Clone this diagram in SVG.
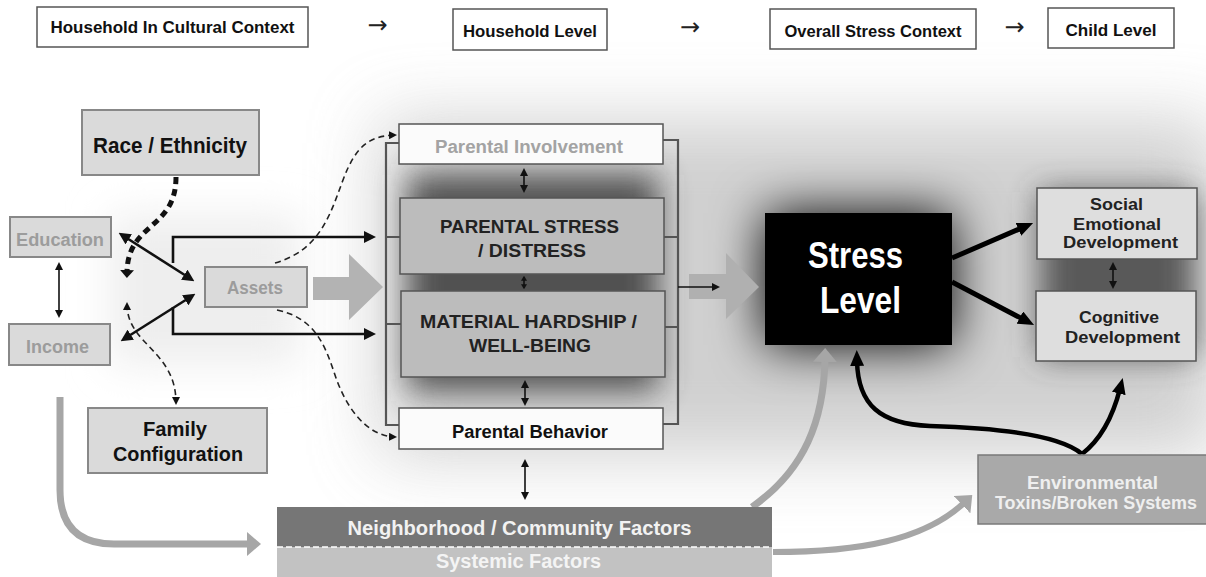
<svg xmlns="http://www.w3.org/2000/svg" width="1206" height="577" viewBox="0 0 1206 577">
<defs>
<style>
text{font-family:"Liberation Sans",Arial,sans-serif;font-weight:bold;text-anchor:middle;}
.hdr rect{fill:#fff;stroke:#555;stroke-width:1.5;}
.hdr text{font-size:17px;fill:#111;}
.arr{font-family:"DejaVu Sans",sans-serif;font-weight:normal;font-size:24px;fill:#222;}
.lg rect{fill:#dadada;stroke:#888;stroke-width:2;}
.ctr{stroke:#555;stroke-width:1.5;}
.thin{fill:none;stroke:#111;stroke-width:1.6;}
.med{fill:none;stroke:#111;stroke-width:2.6;}
.dash{fill:none;stroke:#222;stroke-width:1.6;stroke-dasharray:6 4;}
.thick{fill:none;stroke:#000;stroke-width:5;}
.gray{fill:none;stroke:#a6a6a6;stroke-width:7;}
.brk{fill:none;stroke:#555;stroke-width:2.2;}
</style>
<marker id="sm" viewBox="0 0 8 8" refX="6" refY="4" markerWidth="8" markerHeight="8" markerUnits="userSpaceOnUse" orient="auto-start-reverse"><path d="M0,0 L8,4 L0,8 z" fill="#111"/></marker>
<marker id="xs" viewBox="0 0 8 8" refX="6" refY="4" markerWidth="5" markerHeight="6" markerUnits="userSpaceOnUse" orient="auto-start-reverse" preserveAspectRatio="none"><path d="M0,0 L8,4 L0,8 z" fill="#111"/></marker>
<marker id="md" viewBox="0 0 12 12" refX="8" refY="6" markerWidth="12" markerHeight="12" markerUnits="userSpaceOnUse" orient="auto-start-reverse"><path d="M0,0 L12,6 L0,12 z" fill="#111"/></marker>
<marker id="rc" viewBox="0 0 8 14" refX="2" refY="7" markerWidth="8" markerHeight="14" markerUnits="userSpaceOnUse" orient="auto"><path d="M0,0 L8,7 L0,14 z" fill="#111"/></marker>
<marker id="big" viewBox="0 0 16 14" refX="5" refY="7" markerWidth="16" markerHeight="14" markerUnits="userSpaceOnUse" orient="auto"><path d="M0,0 L16,7 L0,14 z" fill="#000"/></marker>
<marker id="gm" viewBox="0 0 14 24" refX="4" refY="12" markerWidth="14" markerHeight="24" markerUnits="userSpaceOnUse" orient="auto"><path d="M0,0 L14,12 L0,24 z" fill="#a6a6a6"/></marker>
<filter id="b35" x="-50%" y="-50%" width="200%" height="200%"><feGaussianBlur stdDeviation="35"/></filter>
<filter id="b26" x="-50%" y="-50%" width="200%" height="200%"><feGaussianBlur stdDeviation="26"/></filter>
<filter id="b20" x="-50%" y="-50%" width="200%" height="200%"><feGaussianBlur stdDeviation="20"/></filter>
<filter id="b14" x="-50%" y="-50%" width="200%" height="200%"><feGaussianBlur stdDeviation="16"/></filter>
</defs>
<rect width="1206" height="577" fill="#fff"/>
<g id="background">
<rect x="380" y="120" width="840" height="335" fill="#c8c8c8" opacity="0.85" filter="url(#b35)"/>
<rect x="110" y="215" width="190" height="150" fill="#eeeeee" filter="url(#b20)"/>
<rect x="408" y="175" width="250" height="215" fill="#3a3a3a" opacity="0.85" filter="url(#b14)"/>
<rect x="765" y="213" width="187" height="132" fill="#111" filter="url(#b26)"/>
<rect x="1040" y="192" width="155" height="165" fill="#444" opacity="0.85" filter="url(#b14)"/>
</g>
<g id="header">
<g id="h-cultural" class="hdr"><rect x="37" y="7" width="271" height="40"/><text x="172.5" y="33" textLength="244" lengthAdjust="spacingAndGlyphs">Household In Cultural Context</text></g>
<text class="arr" x="377.5" y="33">→</text>
<g id="h-household" class="hdr"><rect x="453" y="9" width="154" height="41"/><text x="530" y="37" textLength="134" lengthAdjust="spacingAndGlyphs">Household Level</text></g>
<text class="arr" x="690" y="35">→</text>
<g id="h-overall" class="hdr"><rect x="770" y="9" width="206" height="40"/><text x="873" y="37" textLength="177" lengthAdjust="spacingAndGlyphs">Overall Stress Context</text></g>
<text class="arr" x="1014.5" y="35">→</text>
<g id="h-child" class="hdr"><rect x="1048" y="8" width="126" height="40"/><text x="1111" y="36" textLength="91" lengthAdjust="spacingAndGlyphs">Child Level</text></g>
</g>
<g id="connectors">
<polygon points="313,277 349,277 349,254 383,287 349,320 349,300 313,300" fill="#b3b3b3"/>
<polygon points="689,274 726,274 726,253 759,287 726,319 726,299 689,299" fill="#b0b0b0"/>
<line class="thin" x1="59" y1="264" x2="59" y2="316" marker-start="url(#sm)" marker-end="url(#sm)"/>
<line class="med" x1="122" y1="235" x2="191" y2="279" marker-start="url(#md)" marker-end="url(#md)"/>
<line class="med" x1="124" y1="339" x2="192" y2="296" marker-start="url(#md)" marker-end="url(#md)"/>
<path class="med" d="M173,263 V237 H372" marker-end="url(#md)"/>
<path class="med" d="M173,307 V334 H372" marker-end="url(#md)"/>
<path d="M176,177 C176,230 128,222 127,272" fill="none" stroke="#111" stroke-width="5" stroke-dasharray="7 5" marker-end="url(#rc)"/>
<path class="dash" d="M127,304 C127,345 176,350 176,403" marker-start="url(#sm)" marker-end="url(#sm)"/>
<path class="dash" d="M275,263 C320,250 330,215 343,180 S370,136 395,135" marker-end="url(#sm)"/>
<path class="dash" d="M277,310 C315,318 325,345 335,375 S365,436 395,437" marker-end="url(#sm)"/>
<path class="brk" d="M400,143 H386 V425 H400"/>
<path class="brk" d="M386,237 H400 M386,324 H401"/>
<path class="brk" d="M663,140 H678 V424 H663"/>
<path class="brk" d="M664,237 H678 M665,327 H678"/>
<line class="thin" x1="678" y1="287" x2="718" y2="287" marker-end="url(#sm)"/>
<line class="thin" x1="524" y1="170" x2="524" y2="191" marker-start="url(#sm)" marker-end="url(#sm)"/>
<line class="thin" x1="524" y1="277" x2="524" y2="288" marker-start="url(#xs)" marker-end="url(#xs)"/>
<line class="thin" x1="525" y1="382" x2="525" y2="404" marker-start="url(#sm)" marker-end="url(#sm)"/>
<line class="thin" x1="525" y1="461" x2="525" y2="498" marker-start="url(#sm)" marker-end="url(#sm)"/>
<line class="thick" x1="952" y1="258" x2="1023" y2="227.4" marker-end="url(#big)"/>
<line class="thick" x1="952" y1="282" x2="1024.3" y2="319.9" marker-end="url(#big)"/>
<line class="thin" x1="1113" y1="264" x2="1113" y2="287" marker-start="url(#sm)" marker-end="url(#sm)"/>
<path class="thick" style="stroke-width:4.5" d="M1082,454 C1100,440 1112,420 1120,388.6" marker-end="url(#big)"/>
<path class="thick" style="stroke-width:4.5" d="M1082,454 C1060,435 1000,428 930,426 C880,424 858,405 857,361" marker-end="url(#big)"/>
<path class="gray" d="M752,507 C805,470 824,420 825,358" marker-end="url(#gm)"/>
<path class="gray" style="stroke-width:6" d="M773,552 C860,552 925,540 965,502" marker-end="url(#gm)"/>
<path class="gray" d="M60,397 V490 Q60,544 114,544 H251" marker-end="url(#gm)"/>
</g>
<g id="race" class="lg"><rect x="82" y="110" width="177" height="65"/><text x="170" y="153" font-size="22" fill="#111" textLength="154" lengthAdjust="spacingAndGlyphs">Race / Ethnicity</text></g>
<g id="education" class="lg"><rect x="10" y="217" width="101" height="40"/><text x="60" y="246" font-size="18" fill="#9c9c9c" textLength="88" lengthAdjust="spacingAndGlyphs">Education</text></g>
<g id="income" class="lg"><rect x="9" y="324" width="101" height="41"/><text x="57.5" y="353" font-size="18" fill="#9c9c9c" textLength="63" lengthAdjust="spacingAndGlyphs">Income</text></g>
<g id="assets" class="lg"><rect x="205" y="267" width="102" height="40"/><text x="255" y="294" font-size="18" fill="#9c9c9c" textLength="56" lengthAdjust="spacingAndGlyphs">Assets</text></g>
<g id="family" class="lg"><rect x="88" y="408" width="179" height="65"/><text x="175" y="436" font-size="20" fill="#111" textLength="64" lengthAdjust="spacingAndGlyphs">Family</text><text x="178" y="461" font-size="20" fill="#111" textLength="130" lengthAdjust="spacingAndGlyphs">Configuration</text></g>
<g id="parental-involvement"><rect class="ctr" x="399" y="124" width="264" height="40" fill="#fbfbfb"/><text x="529" y="153" font-size="18" fill="#a3a3a3" textLength="188" lengthAdjust="spacingAndGlyphs">Parental Involvement</text></g>
<g id="parental-stress"><rect class="ctr" x="400" y="198" width="264" height="76" fill="#bcbcbc"/><text x="529.5" y="233" font-size="19" fill="#222" textLength="179" lengthAdjust="spacingAndGlyphs">PARENTAL STRESS</text><text x="532" y="257" font-size="19" fill="#222" textLength="108" lengthAdjust="spacingAndGlyphs">/ DISTRESS</text></g>
<g id="material-hardship"><rect class="ctr" x="401" y="291" width="264" height="86" fill="#bcbcbc"/><text x="528.5" y="328" font-size="19" fill="#222" textLength="217" lengthAdjust="spacingAndGlyphs">MATERIAL HARDSHIP /</text><text x="530" y="352" font-size="19" fill="#222" textLength="122" lengthAdjust="spacingAndGlyphs">WELL-BEING</text></g>
<g id="parental-behavior"><rect class="ctr" x="399" y="408" width="264" height="41" fill="#fbfbfb"/><text x="530" y="438" font-size="18" fill="#111" textLength="156" lengthAdjust="spacingAndGlyphs">Parental Behavior</text></g>
<g id="stress-level"><rect x="765" y="213" width="187" height="132" fill="#000"/><text x="855.5" y="268" font-size="36" fill="#fff" textLength="95" lengthAdjust="spacingAndGlyphs">Stress</text><text x="860.5" y="313" font-size="36" fill="#fff" textLength="81" lengthAdjust="spacingAndGlyphs">Level</text></g>
<g id="social-emotional"><rect x="1037" y="188" width="160" height="71" fill="#dedede" stroke="#555" stroke-width="1.5"/><text x="1116.5" y="210" font-size="17" fill="#222" textLength="53" lengthAdjust="spacingAndGlyphs">Social</text><text x="1117" y="230" font-size="17" fill="#222" textLength="88" lengthAdjust="spacingAndGlyphs">Emotional</text><text x="1120.5" y="248" font-size="17" fill="#222" textLength="115" lengthAdjust="spacingAndGlyphs">Development</text></g>
<g id="cognitive"><rect x="1036" y="291" width="160" height="70" fill="#dedede" stroke="#555" stroke-width="1.5"/><text x="1119" y="323" font-size="17" fill="#222" textLength="80" lengthAdjust="spacingAndGlyphs">Cognitive</text><text x="1122.5" y="343" font-size="17" fill="#222" textLength="115" lengthAdjust="spacingAndGlyphs">Development</text></g>
<g id="neighborhood"><rect x="277" y="507" width="495" height="40" fill="#767676"/><rect x="277" y="547" width="495" height="32" fill="#c2c2c2"/><line x1="277" y1="547" x2="772" y2="547" stroke="#fff" stroke-width="1.5" stroke-dasharray="6 3"/><text x="519.5" y="535" font-size="20" fill="#f2f2f2" textLength="344" lengthAdjust="spacingAndGlyphs">Neighborhood / Community Factors</text><text x="518.5" y="568" font-size="20" fill="#f4f4f4" textLength="165" lengthAdjust="spacingAndGlyphs">Systemic Factors</text></g>
<g id="environmental"><rect x="978" y="455" width="232" height="69" fill="#a9a9a9" stroke="#7a7a7a" stroke-width="1.5"/><text x="1092.5" y="489" font-size="18" fill="#efefef" textLength="131" lengthAdjust="spacingAndGlyphs">Environmental</text><text x="1096" y="509" font-size="18" fill="#efefef" textLength="202" lengthAdjust="spacingAndGlyphs">Toxins/Broken Systems</text></g>
</svg>
